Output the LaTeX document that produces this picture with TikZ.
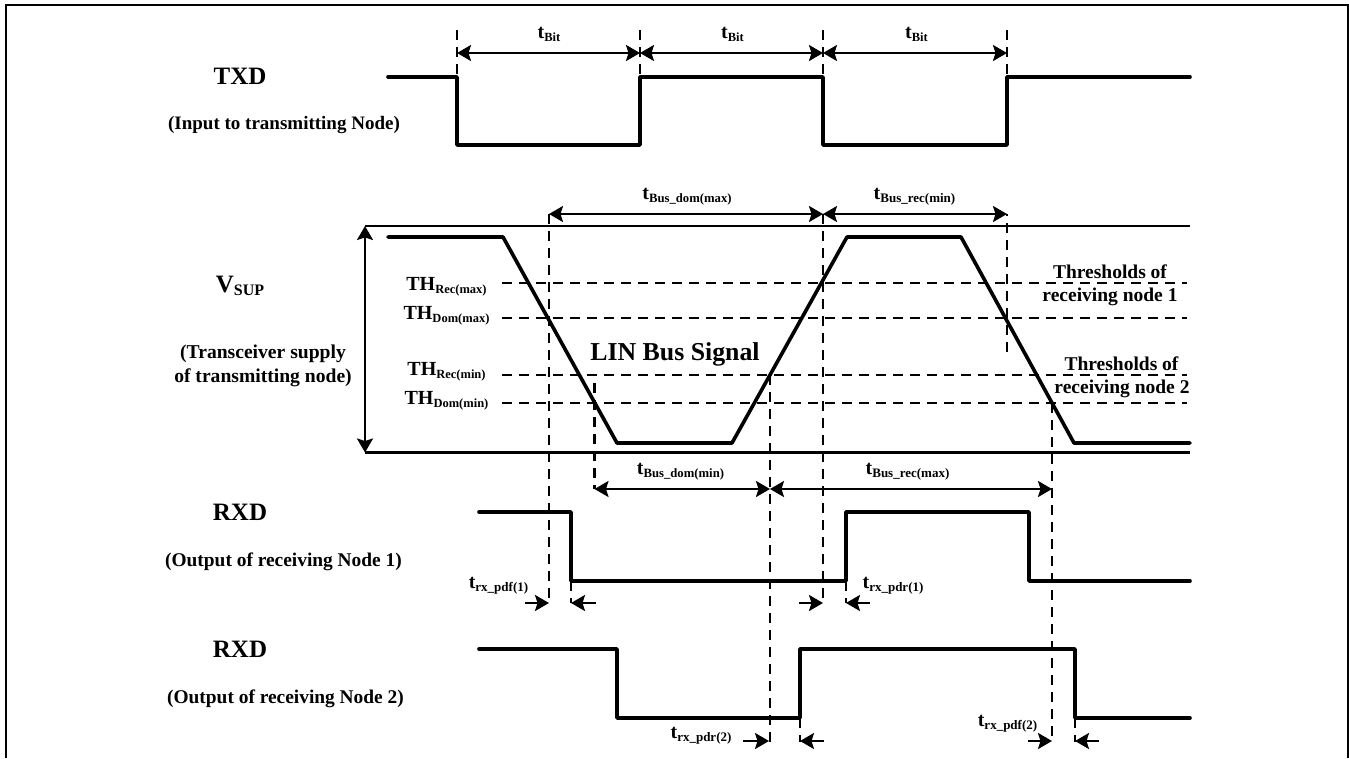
\documentclass[tikz,border=0pt]{standalone}
\usepackage{fontspec}
\setmainfont{Liberation Serif}
\usetikzlibrary{arrows.meta}
\newcommand{\fsz}[1]{\fontsize{#1}{#1}\selectfont}
\newcommand{\tsub}[4]{{\fsz{#1}#3}\raisebox{-3pt}{\fsz{#2}#4}}
\tikzset{
  wave/.style={line width=3.6pt,line cap=round,line join=round},
  rail/.style={line width=2.2pt},
  dim/.style={line width=2.3pt,{Stealth[length=14pt,width=16pt,inset=2.5pt]}-{Stealth[length=14pt,width=16pt,inset=2.5pt]}},
  ptr/.style={line width=2.3pt,-{Stealth[length=14pt,width=16pt,inset=2.5pt]}},
  dsh/.style={line width=2.5pt,dash pattern=on 10pt off 7pt},
  lbl/.style={anchor=base,inner sep=0pt,font=\bfseries},
}
\begin{document}
\begin{tikzpicture}[x=1pt,y=-1pt]
\useasboundingbox (0,0) rectangle (1349,758);
\coordinate (fa) at (6,758); \coordinate (fb) at (6,5); \coordinate (fc) at (1347.5,5); \coordinate (fd) at (1347.5,758);
\draw[line width=2pt] (fa) -- (fb) -- (fc) -- (fd);
% TXD wave
\coordinate (t0) at (388,77); \coordinate (t1) at (457,77); \coordinate (t2) at (457,145); \coordinate (t3) at (640,145);
\coordinate (t4) at (640,77); \coordinate (t5) at (823,77); \coordinate (t6) at (823,145); \coordinate (t7) at (1007,145);
\coordinate (t8) at (1007,77); \coordinate (t9) at (1190,77);
\draw[wave] (t0)--(t1)--(t2)--(t3)--(t4)--(t5)--(t6)--(t7)--(t8)--(t9);
% tBit ticks and arrows
\coordinate (u1) at (457,30); \coordinate (u2) at (640,30); \coordinate (u3) at (823,30); \coordinate (u4) at (1007,30);
\coordinate (a1) at (457,53); \coordinate (a2) at (640,53); \coordinate (a3) at (823,53); \coordinate (a4) at (1007,53);
\draw[dsh] (u1)--(t1); \draw[dsh] (u2)--(t4); \draw[dsh] (u3)--(t5); \draw[dsh] (u4)--(t8);
\draw[dim] (a1)--(a2); \draw[dim] (a2)--(a3); \draw[dim] (a3)--(a4);
% rails
\coordinate (rt0) at (365,226); \coordinate (rt1) at (1190,226); \coordinate (rb0) at (365,452.5); \coordinate (rb1) at (1190,452.5);
\draw[rail] (rt0)--(rt1); \draw[rail] (rb0)--(rb1); \draw[dim] (rt0)--(rb0);
% thresholds
\coordinate (h1a) at (502,283); \coordinate (h1b) at (1187,283);
\coordinate (h2a) at (502,318); \coordinate (h2b) at (1187,318);
\coordinate (h3a) at (502,375); \coordinate (h3b) at (1187,375);
\coordinate (h4a) at (502,403); \coordinate (h4b) at (1187,403);
\draw[dsh] (h1a)--(h1b); \draw[dsh] (h2a)--(h2b); \draw[dsh] (h3a)--(h3b); \draw[dsh] (h4a)--(h4b);
% LIN wave
\coordinate (l0) at (388,237); \coordinate (l1) at (503,237); \coordinate (l2) at (617,443); \coordinate (l3) at (732,443);
\coordinate (l4) at (847,237); \coordinate (l5) at (961,237); \coordinate (l6) at (1074,443); \coordinate (l7) at (1190,443);
\draw[wave] (l0)--(l1)--(l2)--(l3)--(l4)--(l5)--(l6)--(l7);
% RXD1 wave
\coordinate (r0) at (479,512); \coordinate (r1) at (571,512); \coordinate (r2) at (571,581); \coordinate (r3) at (846,581);
\coordinate (r4) at (846,512); \coordinate (r5) at (1029,512); \coordinate (r6) at (1029,581); \coordinate (r7) at (1190,581);
\draw[wave] (r0)--(r1)--(r2)--(r3)--(r4)--(r5)--(r6)--(r7);
% RXD2 wave
\coordinate (s0) at (479,649); \coordinate (s1) at (617,649); \coordinate (s2) at (617,718); \coordinate (s3) at (800,718);
\coordinate (s4) at (800,649); \coordinate (s5) at (1075,649); \coordinate (s6) at (1075,718); \coordinate (s7) at (1190,718);
\draw[wave] (s0)--(s1)--(s2)--(s3)--(s4)--(s5)--(s6)--(s7);
% long dashed verticals
\coordinate (v1a) at (549,214); \coordinate (v1b) at (549,603);
\coordinate (v2a) at (823,214); \coordinate (v2b) at (823,603);
\coordinate (v3a) at (1007,214); \coordinate (v3b) at (1007,352);
\coordinate (v4a) at (594.5,383); \coordinate (v4b) at (594.5,489);
\coordinate (v5a) at (770,375); \coordinate (v5b) at (770,742);
\coordinate (v6a) at (1052,403); \coordinate (v6b) at (1052,742);
\draw[dsh] (v1a)--(v1b); \draw[dsh] (v2a)--(v2b); \draw[dsh,dash phase=8pt] (v3a)--(v3b);
\draw[dsh] (v4a)--(v4b); \draw[dsh] (v5a)--(v5b); \draw[dsh] (v6a)--(v6b);
% bus dimension arrows
\coordinate (m5) at (770,489); \coordinate (m6) at (1052,489);
\draw[dim] (v1a)--(v2a); \draw[dim] (v2a)--(v3a);
\draw[dim] (v4b)--(m5); \draw[dim] (m5)--(m6);
% short ticks
\coordinate (d1) at (571,603); \coordinate (d2) at (846,603); \coordinate (d3) at (800,742); \coordinate (d4) at (1075,742);
\draw[dsh] (r2)--(d1); \draw[dsh] (r3)--(d2); \draw[dsh] (s3)--(d3); \draw[dsh] (s6)--(d4);
% small arrows
\coordinate (p1) at (525,603); \coordinate (p2) at (596,603); \coordinate (p3) at (799,603); \coordinate (p4) at (870,603);
\coordinate (q1) at (743,741); \coordinate (q1t) at (769,741); \coordinate (q2) at (824,741); \coordinate (q2t) at (800,741);
\coordinate (q3) at (1028,741); \coordinate (q3t) at (1052,741); \coordinate (q4) at (1099,741); \coordinate (q4t) at (1075,741);
\draw[ptr] (p1)--(v1b); \draw[ptr] (p2)--(d1); \draw[ptr] (p3)--(v2b); \draw[ptr] (p4)--(d2);
\draw[ptr] (q1)--(q1t); \draw[ptr] (q2)--(q2t); \draw[ptr] (q3)--(q3t); \draw[ptr] (q4)--(q4t);
% labels
\node[lbl] (ntxd) at (240,84.5) {\fsz{25}TXD};
\node[lbl] (ninp) at (284,129.5) {\fsz{19}(Input to transmitting Node)};
\node[lbl] (nvsup) at (240,292.5) {\tsub{25}{16}{V}{SUP}};
\node[lbl] (ntr1) at (263,358.5) {\fsz{19.6}(Transceiver supply};
\node[lbl] (ntr2) at (263,382.5) {\fsz{19.6}of transmitting node)};
\node[lbl] (nrxd1) at (240,520.5) {\fsz{25}RXD};
\node[lbl] (nout1) at (283.5,566.5) {\fsz{19.4}(Output of receiving Node 1)};
\node[lbl] (nrxd2) at (240,657.5) {\fsz{25}RXD};
\node[lbl] (nout2) at (285.5,703.5) {\fsz{19.4}(Output of receiving Node 2)};
\node[lbl] (nth1) at (446.5,290) {\tsub{20}{12.5}{TH}{Rec(max)}};
\node[lbl] (nth2) at (446.5,319) {\tsub{20}{12.5}{TH}{Dom(max)}};
\node[lbl] (nth3) at (446.5,375) {\tsub{20}{12.5}{TH}{Rec(min)}};
\node[lbl] (nth4) at (446.5,404) {\tsub{20}{12.5}{TH}{Dom(min)}};
\node[lbl] (nlin) at (675,360) {\fsz{25.8}LIN Bus Signal};
\node[lbl] (nb1) at (549,38) {\tsub{20}{12.5}{t}{Bit}};
\node[lbl] (nb2) at (732.5,38) {\tsub{20}{12.5}{t}{Bit}};
\node[lbl] (nb3) at (916.5,38) {\tsub{20}{12.5}{t}{Bit}};
\node[lbl] (nd1) at (687,199) {\tsub{20}{12.7}{t}{Bus\_dom(max)}};
\node[lbl] (nd2) at (914.5,199) {\tsub{20}{13}{t}{Bus\_rec(min)}};
\node[lbl] (nd3) at (680.5,474) {\tsub{20}{12.7}{t}{Bus\_dom(min)}};
\node[lbl] (nd4) at (907.5,474) {\tsub{20}{13}{t}{Bus\_rec(max)}};
\node[lbl] (nx1) at (498.5,588) {\tsub{20}{13}{t}{rx\_pdf(1)}};
\node[lbl] (nx2) at (893,588) {\tsub{20}{13}{t}{rx\_pdr(1)}};
\node[lbl] (nx3) at (701,738) {\tsub{20}{13}{t}{rx\_pdr(2)}};
\node[lbl] (nx4) at (1007.5,726) {\tsub{20}{13}{t}{rx\_pdf(2)}};
\node[lbl] (nh1) at (1110,278) {\fsz{19.5}Thresholds of};
\node[lbl] (nh2) at (1110,301) {\fsz{19.5}receiving node 1};
\node[lbl] (nh3) at (1121.5,370) {\fsz{19.5}Thresholds of};
\node[lbl] (nh4) at (1122,393) {\fsz{19.5}receiving node 2};
\end{tikzpicture}
\end{document}
